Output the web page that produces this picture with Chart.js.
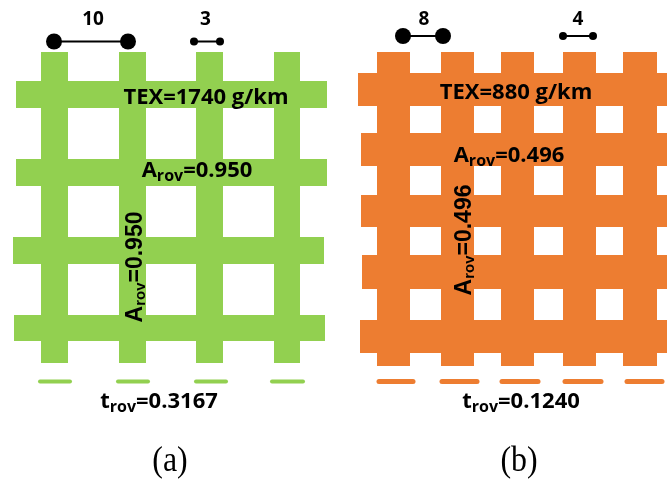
<!DOCTYPE html>
<html>
<head>
<meta charset="utf-8">
<script src="https://cdn.jsdelivr.net/npm/chart.js@4.4.1/dist/chart.umd.min.js"></script>
<style>
  html, body { margin: 0; padding: 0; background: #ffffff; }
  #wrap { width: 667px; height: 483px; }
</style>
</head>
<body>
<div id="wrap"><canvas id="c" width="667" height="483"></canvas></div>
<script>
// Panel captions and annotation texts
const panelCaptions = ['(a)', '(b)'];
const texLabels = ['TEX=1740 g/km', 'TEX=880 g/km'];
const arovValues = ['0.950', '0.496'];
const trovValues = ['0.3167', '0.1240'];
const spacingLabels = [['10', '3'], ['8', '4']];

// Grid geometry in drawing units (x: 0..667 left to right, y: 0..483 top to bottom)
const greenColumnSpans = [[41, 68], [119, 146], [196, 223], [274, 300]];
const greenColumnExtent = [52, 363];
const greenRowSpans = [[81, 108], [159, 186], [237, 264], [315, 341]];
const greenRowExtents = [[16, 327], [16, 327], [13, 324], [14, 325]];

const orangeColumnSpans = [[377, 410], [441, 474], [501, 534], [563, 596], [623, 657]];
const orangeColumnExtent = [52, 366];
const orangeRowSpans = [[73, 106], [133, 166], [195, 227], [255, 289], [320, 353]];
const orangeRowExtents = [[358, 667], [361, 667], [361, 667], [362, 667], [360, 667]];

// Cross-section dashes under each panel: [x start, x end]
const greenDashes = [[40, 70], [118, 148], [196, 226], [272, 303]];
const orangeDashes = [[379, 413], [442, 477], [502, 538], [565, 601], [627, 662]];
const dashLevels = [381.5, 381.5];

// Spacing markers above each panel: [x start, x end, y]
const greenMarkers = [[54, 128, 41.5], [194, 220, 41.5]];
const orangeMarkers = [[403, 443, 36], [563, 593, 36]];

const GREEN = '#92D050';
const ORANGE = '#ED7D31';

function rectangle(x0, x1, y0, y1, color) {
  return {
    data: [{x: x0, y: y0}, {x: x1, y: y0}, {x: x1, y: y1}, {x: x0, y: y1}, {x: x0, y: y0}],
    showLine: true,
    fill: 'shape',
    backgroundColor: color,
    borderColor: 'rgba(0,0,0,0)',
    borderWidth: 0,
    pointRadius: 0,
    tension: 0
  };
}

function gridDatasets(colSpans, colExtent, rowSpans, rowExtents, color) {
  const sets = [];
  colSpans.forEach(([a, b]) => sets.push(rectangle(a, b, colExtent[0], colExtent[1], color)));
  rowSpans.forEach(([a, b], i) => sets.push(rectangle(rowExtents[i][0], rowExtents[i][1], a, b, color)));
  return sets;
}

function dashDatasets(dashes, level, color, width) {
  return dashes.map(([a, b]) => ({
    data: [{x: a, y: level}, {x: b, y: level}],
    showLine: true,
    borderColor: color,
    borderWidth: width,
    borderCapStyle: 'round',
    pointRadius: 0,
    fill: false
  }));
}

function markerDatasets(markers, radii) {
  return markers.map(([a, b, y], i) => ({
    data: [{x: a, y: y}, {x: b, y: y}],
    showLine: true,
    borderColor: '#000000',
    borderWidth: 2,
    pointRadius: radii[i],
    pointBackgroundColor: '#000000',
    pointBorderWidth: 0,
    fill: false
  }));
}

const datasets = [
  ...gridDatasets(greenColumnSpans, greenColumnExtent, greenRowSpans, greenRowExtents, GREEN),
  ...gridDatasets(orangeColumnSpans, orangeColumnExtent, orangeRowSpans, orangeRowExtents, ORANGE),
  ...dashDatasets(greenDashes, dashLevels[0], GREEN, 4),
  ...dashDatasets(orangeDashes, dashLevels[1], ORANGE, 5),
  ...markerDatasets(greenMarkers, [8, 4]),
  ...markerDatasets(orangeMarkers, [8, 4])
];

// Where the annotation texts sit, in drawing units
const labelLayout = {
  tex: [[206, 104], [516, 99]],
  arovH: [[197, 177], [509, 162]],
  arovV: [[142, 267], [471, 240]],
  trov: [[159, 408], [521, 408]],
  spacing: [[[93, 25], [205.5, 25]], [[424, 25], [578, 25]]],
  caption: [[170, 471], [519, 471]]
};

const BOLD = 'bold 22px "Open Sans"';
const SUB = 'bold 16px "Open Sans"';
const VBOLD = 'bold 23px "Liberation Sans"';
const VSUB = 'bold 15px "Liberation Sans"';

function drawParts(ctx, parts, cx, cy, angle) {
  ctx.save();
  ctx.translate(cx, cy);
  if (angle) ctx.rotate(angle);
  let total = 0;
  parts.forEach(p => { ctx.font = p.font; total += ctx.measureText(p.text).width; });
  let x = -total / 2;
  ctx.textBaseline = 'alphabetic';
  ctx.textAlign = 'left';
  ctx.fillStyle = '#000000';
  parts.forEach(p => {
    ctx.font = p.font;
    ctx.fillText(p.text, x, p.dy || 0);
    x += ctx.measureText(p.text).width;
  });
  ctx.restore();
}

const annotationPlugin = {
  id: 'meshAnnotations',
  afterDatasetsDraw(chart) {
    const ctx = chart.ctx;
    const sx = v => chart.scales.x.getPixelForValue(v);
    const sy = v => chart.scales.y.getPixelForValue(v);
    for (let i = 0; i < 2; i++) {
      const [tx, ty] = labelLayout.tex[i];
      drawParts(ctx, [{text: texLabels[i], font: BOLD}], sx(tx), sy(ty), 0);

      const [ax, ay] = labelLayout.arovH[i];
      drawParts(ctx, [
        {text: 'A', font: BOLD},
        {text: 'rov', font: SUB, dy: 4},
        {text: '=' + arovValues[i], font: BOLD}
      ], sx(ax), sy(ay), 0);

      const [vx, vy] = labelLayout.arovV[i];
      drawParts(ctx, [
        {text: 'A', font: VBOLD},
        {text: 'rov', font: VSUB, dy: 3},
        {text: '=' + arovValues[i], font: VBOLD}
      ], sx(vx), sy(vy), -Math.PI / 2);

      const [rx, ry] = labelLayout.trov[i];
      drawParts(ctx, [
        {text: 't', font: BOLD},
        {text: 'rov', font: SUB, dy: 4},
        {text: '=' + trovValues[i], font: BOLD}
      ], sx(rx), sy(ry), 0);

      labelLayout.spacing[i].forEach(([px, py], k) => {
        drawParts(ctx, [{text: spacingLabels[i][k], font: 'bold 19px "Open Sans"'}], sx(px), sy(py), 0);
      });

      const [cx, cy] = labelLayout.caption[i];
      ctx.save();
      ctx.translate(sx(cx), sy(cy));
      ctx.scale(1.1, 1.25);
      drawParts(ctx, [{text: panelCaptions[i], font: '29px "Liberation Serif"'}], 0, 0, 0);
      ctx.restore();
    }
  }
};

new Chart(document.getElementById('c'), {
  type: 'scatter',
  data: { datasets },
  options: {
    responsive: false,
    animation: false,
    devicePixelRatio: 1,
    layout: { padding: 0, autoPadding: false },
    plugins: {
      legend: { display: false },
      tooltip: { enabled: false },
      filler: { propagate: false }
    },
    scales: {
      x: { type: 'linear', min: 0, max: 667, display: false },
      y: { type: 'linear', min: 0, max: 483, reverse: true, display: false }
    },
    elements: { line: { tension: 0 } }
  },
  plugins: [annotationPlugin]
});
</script>
</body>
</html>
